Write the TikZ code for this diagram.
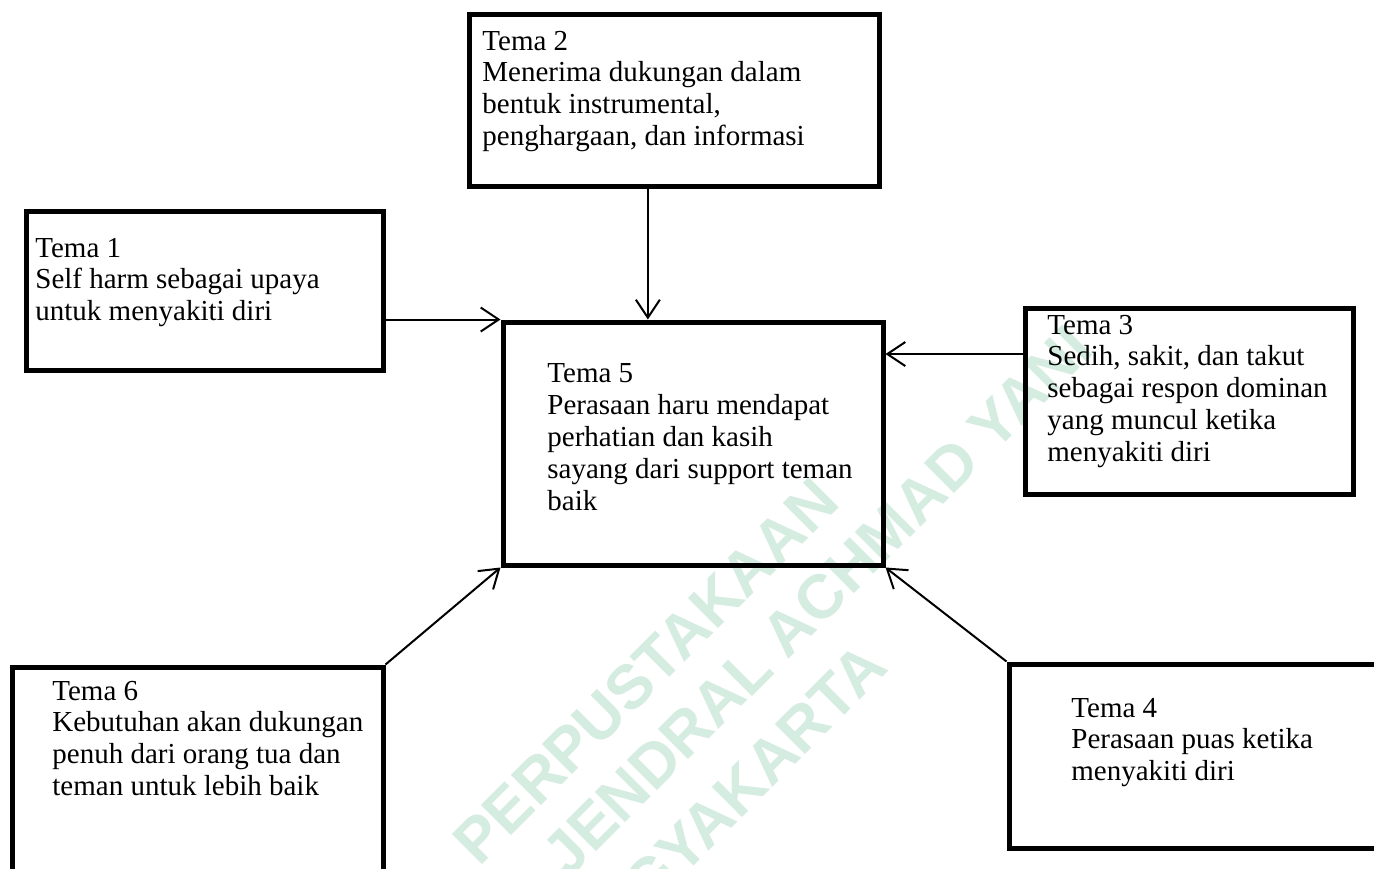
\documentclass[tikz,border=0pt]{standalone}
\usepackage{fontspec}
\setmainfont{Liberation Serif}
\newfontfamily\wmfont{Liberation Sans}
\usetikzlibrary{arrows.meta,calc}
\definecolor{wm}{RGB}{213,236,224}
\begin{document}
\begin{tikzpicture}[x=0.5pt,y=-0.5pt,
  box/.style={draw, rectangle, line width=2.5pt, inner sep=0pt},
  txt/.style={inner sep=0pt, align=left, anchor=base west, font=\fontsize{14.5}{15.9}\selectfont},
  arr/.style={line width=1pt, -{Straight Barb[length=9pt,width=12pt]}},
  wmtxt/.style={inner sep=0pt, anchor=base east, rotate=45, text=wm, font=\wmfont\bfseries\fontsize{31}{31}\selectfont}]
\useasboundingbox (0,0) rectangle (1374,868);
\clip (0,0) rectangle (1374,868);
\fill[white] (0,0) rectangle (1374,868);

% watermark
\node[wmtxt] (wm1) at (842,505) {PERPUSTAKAAN};
\node[wmtxt] (wm2) at (1096,352) {JENDRAL ACHMAD YANI};
\node[wmtxt] (wm3) at (890,670) {YOGYAKARTA};

% boxes
\node[box, minimum width=205pt, minimum height=86pt] (t2) at (674,100) {};
\node[box, minimum width=178.5pt, minimum height=79.5pt] (t1) at (204.5,290.5) {};
\node[box, minimum width=190pt, minimum height=121.5pt] (t5) at (693,443.5) {};
\node[box, minimum width=164pt, minimum height=93pt] (t3) at (1189,401) {};
\node[box, minimum width=185.5pt, minimum height=116.5pt] (t6) at (197.5,783.5) {};
\node[box, minimum width=195.5pt, minimum height=92pt] (t4) at (1204.5,756) {};

% texts (anchored at the baseline of their last line)
\node[txt] (x2) at (482,145.4) {Tema 2\\Menerima dukungan dalam\\bentuk instrumental,\\penghargaan, dan informasi};
\node[txt] (x1) at (35,320.6) {Tema 1\\Self harm sebagai upaya\\untuk menyakiti diri};
\node[txt] (x5) at (547,510) {Tema 5\\Perasaan haru mendapat\\perhatian dan kasih\\sayang dari support teman\\baik};
\node[txt] (x3) at (1047,461.2) {Tema 3\\Sedih, sakit, dan takut\\sebagai respon dominan\\yang muncul ketika\\menyakiti diri};
\node[txt] (x6) at (52,795.4) {Tema 6\\Kebutuhan akan dukungan\\penuh dari orang tua dan\\teman untuk lebih baik};
\node[txt] (x4) at (1071,780.6) {Tema 4\\Perasaan puas ketika\\menyakiti diri};

% connectors
\draw[arr] (t1.east |- t5.north west) -- (t5.north west);
\draw[arr] ($(t2.south west)!0.437!(t2.south east)$) coordinate (a2) -- (a2 |- t5.north);
\draw[arr] ($(t3.north west)!0.254!(t3.south west)$) coordinate (a3) -- (a3 -| t5.east);
\draw[arr] (t6.north east) -- (t5.south west);
\draw[arr] (t4.north west) -- (t5.south east);
\end{tikzpicture}
\end{document}
